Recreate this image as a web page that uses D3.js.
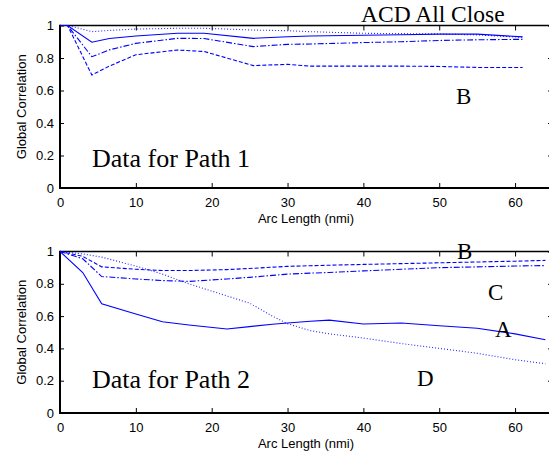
<!DOCTYPE html>
<html><head><meta charset="utf-8">
<script src="https://cdn.jsdelivr.net/npm/d3@7"></script>
<style>
body{margin:0;background:#fff;}
svg{display:block;}
.tick text{font-family:"Liberation Sans",Arial,sans-serif;font-size:13px;fill:#000;}
</style></head>
<body><svg id="c" width="549" height="458"></svg>
<script>
// ---- data ----
const xTicks = [0,10,20,30,40,50,60];
const yTicks = [0,0.2,0.4,0.6,0.8,1];
const yTickLabels = ["0","0.2","0.4","0.6","0.8","1"];

// Path 1
const p1x      = [0, 1, 4.2, 6.5, 10, 15.5, 19, 25.5, 30, 33, 40, 45, 50, 55, 61];
const p1Solid  = [1, 1, 0.897, 0.92, 0.935, 0.952, 0.952, 0.921, 0.931, 0.935, 0.94, 0.943, 0.947, 0.947, 0.93];
const p1Dotted = [1, 1, 0.962, 0.97, 0.978, 0.983, 0.983, 0.972, 0.968, 0.962, 0.952, 0.95, 0.948, 0.942, 0.927];
const p1DashDot= [1, 1, 0.808, 0.85, 0.89, 0.921, 0.92, 0.87, 0.884, 0.886, 0.895, 0.9, 0.908, 0.912, 0.915];
const p1Dashed = [1, 1, 0.695, 0.75, 0.82, 0.849, 0.84, 0.753, 0.761, 0.75, 0.75, 0.75, 0.748, 0.742, 0.742];

// Path 2
const p2x      = [0, 3, 5.5, 10, 13.5, 17, 22, 25, 28, 30, 33, 35.5, 40, 45, 50, 55, 60, 64];
const p2Solid  = [1, 0.87, 0.676, 0.613, 0.565, 0.545, 0.52, 0.535, 0.55, 0.557, 0.568, 0.575, 0.551, 0.557, 0.54, 0.525, 0.49, 0.454];
const p2Dotted = [1, 0.985, 0.965, 0.91, 0.86, 0.8, 0.725, 0.68, 0.6, 0.553, 0.51, 0.49, 0.464, 0.43, 0.4, 0.37, 0.33, 0.305];
const p2Dashed = [1, 0.97, 0.905, 0.89, 0.882, 0.882, 0.888, 0.895, 0.903, 0.908, 0.912, 0.915, 0.92, 0.925, 0.93, 0.935, 0.94, 0.945];
const p2DashDot= [1, 0.955, 0.845, 0.83, 0.82, 0.815, 0.83, 0.84, 0.852, 0.86, 0.866, 0.87, 0.88, 0.89, 0.9, 0.905, 0.91, 0.913];

const svg = d3.select("#c");
const blue = "#0000ff";
const styles = {
  solid:   {dash:null, op:1},
  dotted:  {dash:"1,2", op:0.85},
  dashed:  {dash:"4,2", op:1},
  dashdot: {dash:"6,2,1.5,2", op:1}
};

function panel(cfg){
  const x = d3.scaleLinear().domain([0,65]).range([60,553]);
  const y = d3.scaleLinear().domain([0,1]).range([cfg.bottom, cfg.top]);
  const g = svg.append("g");

  // x axis
  const xa = g.append("g").attr("transform",`translate(0,${cfg.bottom})`)
    .call(d3.axisBottom(x).tickValues(xTicks).tickSize(-5).tickPadding(10).tickFormat(d3.format("d")));
  xa.select(".domain").remove();
  xa.selectAll(".tick line").attr("stroke","#000");
  // top ticks
  const xt = g.append("g").attr("transform",`translate(0,${cfg.top})`)
    .call(d3.axisTop(x).tickValues(xTicks).tickSize(-5).tickFormat(""));
  xt.select(".domain").remove();
  // y axis
  const ya = g.append("g").attr("transform","translate(60,0)")
    .call(d3.axisLeft(y).tickValues(yTicks).tickSize(-4).tickPadding(6).tickFormat((d,i)=>yTickLabels[i]));
  ya.select(".domain").remove();
  const yr = g.append("g").attr("transform","translate(553,0)")
    .call(d3.axisRight(y).tickValues(yTicks).tickSize(-5).tickFormat(""));
  yr.select(".domain").remove();

  // frame
  g.append("line").attr("x1",60).attr("x2",553).attr("y1",cfg.top).attr("y2",cfg.top).attr("stroke","#000").attr("stroke-width",1.5);
  g.append("line").attr("x1",553).attr("x2",553).attr("y1",cfg.top).attr("y2",cfg.bottom).attr("stroke","#000").attr("stroke-width",1.5);
  g.append("line").attr("x1",59).attr("x2",553).attr("y1",cfg.bottom).attr("y2",cfg.bottom).attr("stroke","#000").attr("stroke-width",2);
  g.append("line").attr("x1",60).attr("x2",60).attr("y1",cfg.top-0.75).attr("y2",cfg.bottom+1).attr("stroke","#000").attr("stroke-width",2);

  // lines
  const line = d3.line().x((d,i)=>x(cfg.xs[i])).y(d=>y(d));
  cfg.series.forEach(s=>{
    const st = styles[s.style];
    g.append("path").datum(s.values).attr("d",line)
      .attr("fill","none").attr("stroke",blue).attr("stroke-width",1.1)
      .attr("stroke-opacity",st.op)
      .attr("stroke-dasharray",st.dash);
  });

  // axis labels
  g.append("text").attr("x",306).attr("y",cfg.bottom+35).attr("text-anchor","middle")
    .attr("font-family","Liberation Sans, Arial, sans-serif").attr("font-size",13).text("Arc Length (nmi)");
  g.append("text").attr("transform",`translate(26,${(cfg.top+cfg.bottom)/2}) rotate(-90)`)
    .attr("text-anchor","middle")
    .attr("font-family","Liberation Sans, Arial, sans-serif").attr("font-size",13).text("Global Correlation");

  // annotations
  cfg.notes.forEach(n=>{
    g.append("text").attr("x",n.x).attr("y",n.y).attr("font-family","Liberation Serif, Times New Roman, serif")
      .attr("font-size",n.size).attr("fill","#000").text(n.t);
  });
}

panel({top:25.5,bottom:188,xs:p1x,
  series:[{values:p1Dotted,style:"dotted"},{values:p1Solid,style:"solid"},{values:p1DashDot,style:"dashdot"},{values:p1Dashed,style:"dashed"}],
  notes:[{t:"ACD All Close",x:361,y:21.5,size:23.5},{t:"B",x:456,y:103.5,size:23},{t:"Data for Path 1",x:92,y:167,size:26}]
});
panel({top:251.5,bottom:413,xs:p2x,
  series:[{values:p2Dotted,style:"dotted"},{values:p2Solid,style:"solid"},{values:p2Dashed,style:"dashed"},{values:p2DashDot,style:"dashdot"}],
  notes:[{t:"B",x:457,y:258.5,size:23},{t:"C",x:488,y:300,size:23},{t:"A",x:495,y:337,size:23},{t:"D",x:417,y:386,size:23},{t:"Data for Path 2",x:92,y:388,size:26}]
});
</script></body></html>
